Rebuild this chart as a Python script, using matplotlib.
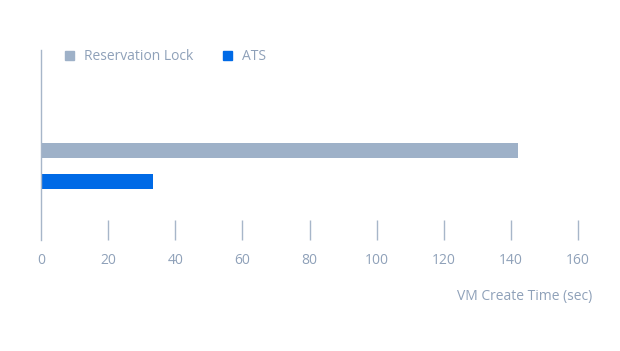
import numpy as np
import matplotlib.pyplot as plt
from matplotlib.patches import Patch

plt.rcParams['font.family'] = ['Open Sans', 'DejaVu Sans']

series = ["Reservation Lock", "ATS"]
values = [142, 33.5]
colors = ["#9eb1c8", "#006ae6"]
ticks = [0, 20, 40, 60, 80, 100, 120, 140, 160]
txt = "#8fa1b9"
line = "#a7b6c9"

fig = plt.figure(figsize=(6.2, 3.51), dpi=100)
ax = fig.add_axes([41/620, (351-240)/351, (578-41)/620, 190/351])

ypos = [1, 0]
ax.barh(ypos, values, height=0.48, color=colors)
ax.set_xlim(0, 160)
ax.set_ylim(-1.9, 4.23)

for s in ["top", "right", "bottom"]:
    ax.spines[s].set_visible(False)
ax.spines["left"].set_color(line)
ax.spines["left"].set_linewidth(1)
ax.set_yticks([])
ax.set_xticks(ticks)
ax.tick_params(axis="x", direction="in", length=14.4, width=1, color=line,
               labelcolor=txt, labelsize=10, pad=9.5)
ax.xaxis.get_major_ticks()[0].tick1line.set_visible(False)
ax.set_xlabel("VM Create Time (sec)", color=txt, fontsize=10)
ax.xaxis.set_label_coords((592-41)/537, -0.26)
ax.xaxis.label.set_horizontalalignment("right")

handles = [Patch(color=c, label=l) for c, l in zip(colors, series)]
leg = fig.legend(handles=handles, loc="center left", bbox_to_anchor=(52/620, 1-57/351),
                 ncol=2, frameon=False, fontsize=10, handlelength=0.65, handleheight=0.65,
                 handletextpad=0.72, columnspacing=2.2, labelcolor=txt)

fig.savefig("out.png", dpi=100)
